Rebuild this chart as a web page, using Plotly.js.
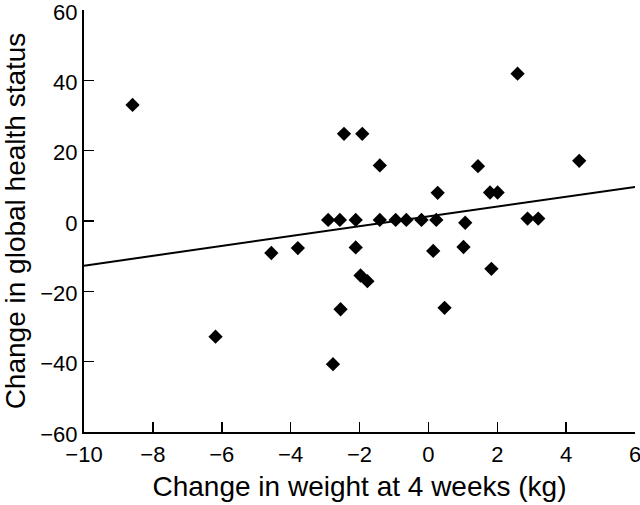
<!DOCTYPE html>
<html>
<head>
<meta charset="utf-8">
<script src="https://cdn.plot.ly/plotly-3.0.1.min.js"></script>
<style>html,body{margin:0;padding:0;background:#fff;}#chart{width:640px;height:505px;}</style>
</head>
<body>
<div id="chart"></div>
<script>
const weightChange = [-8.59, -6.18, -4.56, -3.79, -2.91, -2.77, -2.57, -2.55, -2.45, -2.11, -2.11, -1.97, -1.92, -1.77, -1.41, -1.41, -0.95, -0.64, -0.20, 0.14, 0.23, 0.27, 0.47, 1.02, 1.07, 1.44, 1.79, 1.83, 2.01, 2.59, 2.88, 3.19, 4.38];
const healthChange = [33.0, -32.9, -9.1, -7.7, 0.3, -40.7, 0.3, -25.1, 24.8, 0.3, -7.5, -15.5, 24.8, -17.1, 15.8, 0.3, 0.3, 0.3, 0.3, -8.5, 0.3, 8.0, -24.7, -7.4, -0.5, 15.6, 8.1, -13.6, 8.1, 41.9, 0.7, 0.7, 17.1];
const fitX = [-10, 6];
const fitY = [-12.7, 9.7];
const xTicks = [-10, -8, -6, -4, -2, 0, 2, 4, 6];
const yTicks = [-60, -40, -20, 0, 20, 40, 60];

const fontFam = 'Liberation Sans, Arial, sans-serif';
const data = [
  {x: fitX, y: fitY, mode: 'lines', type: 'scatter', line: {color: '#000', width: 2}, showlegend: false, hoverinfo: 'skip'},
  {x: weightChange, y: healthChange, mode: 'markers', type: 'scatter',
   marker: {symbol: 'diamond', size: 11, color: '#000'}, showlegend: false}
];
const layout = {
  width: 640, height: 505,
  margin: {l: 84, r: 5, t: 10, b: 73},
  paper_bgcolor: '#fff', plot_bgcolor: '#fff',
  font: {family: fontFam, color: '#000', size: 21},
  xaxis: {
    range: [-10, 6], tickvals: xTicks, ticks: 'inside', ticklen: 10, tickwidth: 1.5, tickcolor: '#000',
    showline: true, linewidth: 2, linecolor: '#000', showgrid: false, zeroline: false,
    ticklabeloverflow: 'allow', automargin: false, ticklabelstandoff: 2,
    tickfont: {size: 22, family: fontFam},
    title: {text: 'Change in weight at 4 weeks (kg)', font: {size: 28, family: fontFam}, standoff: 10}
  },
  yaxis: {
    range: [-60, 60], tickvals: yTicks, ticks: 'inside', ticklen: 10, tickwidth: 1.5, tickcolor: '#000',
    showline: true, linewidth: 2, linecolor: '#000', showgrid: false, zeroline: false,
    ticklabeloverflow: 'allow', automargin: false, ticklabelshift: 2,
    tickfont: {size: 22, family: fontFam},
    title: {text: 'Change in global health status', font: {size: 28, family: fontFam}, standoff: 6}
  }
};
Plotly.newPlot('chart', data, layout, {staticPlot: true});
</script>
</body>
</html>
